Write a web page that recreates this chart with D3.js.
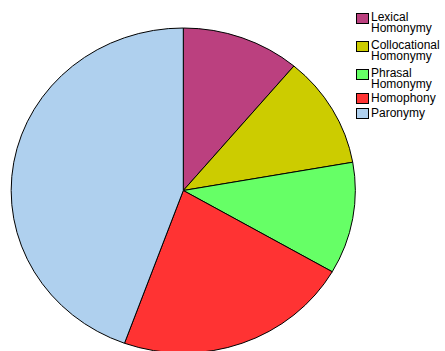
<!DOCTYPE html>
<html>
<head>
<meta charset="utf-8">
<script src="https://cdn.jsdelivr.net/npm/d3@7"></script>
<style>
  body { margin: 0; background: #fff; }
  svg { display: block; }
</style>
</head>
<body>
<div id="chart"></div>
<script>
const categories = ["Lexical Homonymy", "Collocational Homonymy", "Phrasal Homonymy", "Homophony", "Paronymy"];
const values = [1, 1, 1, 2, 4];
const colors = ["#bb407f", "#cccc00", "#66ff66", "#ff3333", "#afd0ee"];
const legendLines = [["Lexical", "Homonymy"], ["Collocational", "Homonymy"], ["Phrasal", "Homonymy"], ["Homophony"], ["Paronymy"]];

const width = 445, height = 351;
const cx = 183.3, cy = 190.5, rx = 172, ry = 162.5;

const svg = d3.select("#chart").append("svg")
  .attr("width", width)
  .attr("height", height);

const data = categories.map((c, i) => ({ name: c, value: values[i], color: colors[i] }));

const pie = d3.pie().sort(null).value(d => d.value);
// unit arc, stretched into an ellipse
const arc = d3.arc().innerRadius(0).outerRadius(1);

const g = svg.append("g")
  .attr("transform", `translate(${cx},${cy}) scale(${rx},${ry})`);

g.selectAll("path")
  .data(pie(data))
  .join("path")
  .attr("d", arc)
  .attr("fill", d => d.data.color)
  .attr("stroke", "#000")
  .attr("stroke-width", 1)
  .attr("vector-effect", "non-scaling-stroke");

// legend
const legend = svg.append("g").attr("font-family", "Liberation Sans, Arial, sans-serif").attr("font-size", 12);
const legendY = [12, 40, 68, 93, 108];
data.forEach((d, i) => {
  const lines = legendLines[i];
  const y = legendY[i];
  legend.append("rect")
    .attr("x", 356.5)
    .attr("y", y + (lines.length > 1 ? 1.5 : 0.5))
    .attr("width", 12)
    .attr("height", 10)
    .attr("fill", d.color)
    .attr("stroke", "#000")
    .attr("stroke-width", 1);
  lines.forEach((t, j) => {
    legend.append("text")
      .attr("x", 371)
      .attr("y", y + 8.5 + j * 11.5)
      .attr("fill", "#000")
      .text(t);
  });
});
</script>
</body>
</html>
